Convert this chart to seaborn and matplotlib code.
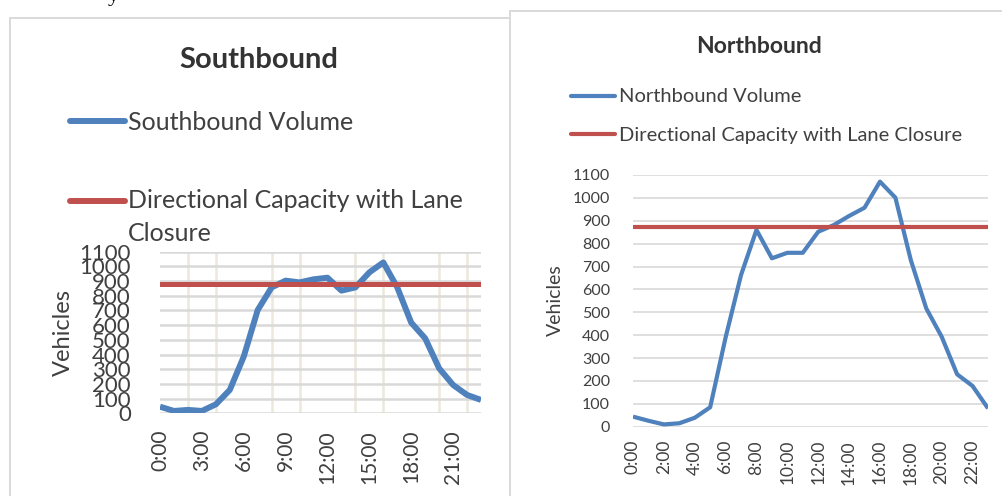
import matplotlib
matplotlib.use("Agg")
import matplotlib.pyplot as plt
from matplotlib.patches import Rectangle
from matplotlib.lines import Line2D
import pandas as pd
import seaborn as sns

# Hourly traffic volumes (vehicles per hour) by direction
hours = list(range(24))
hour_labels = [f"{h}:00" for h in hours]
southbound_volume = [45, 16, 23, 16, 61, 159, 386, 703, 857, 903, 891, 912,
                     923, 835, 857, 959, 1027, 857, 617, 510, 306, 193, 125, 91]
northbound_volume = [44, 26, 10, 15, 39, 85, 390, 663, 860, 736, 760, 760,
                     852, 881, 921, 957, 1071, 1001, 728, 517, 393, 229, 178, 80]
capacity_southbound = 878
capacity_northbound = 874
y_ticks = list(range(0, 1101, 100))

BLUE = "#4f81bd"
RED = "#c0504d"
TEXT = "#404040"

sns.set_theme(style="white")
plt.rcParams["font.family"] = ["Lato", "DejaVu Sans"]

W, H = 1002, 496
fig = plt.figure(figsize=(W / 100, H / 100), dpi=100)


def fx(px):
    return px / W


def fy(py):
    return 1 - py / H


# chart frames
fig.add_artist(Rectangle((fx(10), fy(520)), (530 - 10) / W, (520 - 18) / H,
                         transform=fig.transFigure, facecolor="white",
                         edgecolor="#d9d9d9", lw=1.4, zorder=-2))
fig.add_artist(Rectangle((fx(510), fy(520)), (1030 - 510) / W, (520 - 11) / H,
                         transform=fig.transFigure, facecolor="white",
                         edgecolor="#d9d9d9", lw=1.4, zorder=-1))

# stray text from the surrounding page
fig.text(fx(108), fy(1.5), "y", family="Liberation Serif", fontsize=16,
         va="baseline", color="black")

sb = pd.DataFrame({"hour": hours, "volume": southbound_volume})
nb = pd.DataFrame({"hour": hours, "volume": northbound_volume})


def style_axes(ax, label_step, grid_lw, ytick_size, xtick_size, ypad, xpad):
    ax.set_xlim(0, 23)
    ax.set_ylim(0, 1100)
    ax.set_yticks(y_ticks)
    ax.set_yticklabels([str(v) for v in y_ticks], fontsize=ytick_size, color=TEXT)
    ax.set_xticks(hours[::label_step])
    ax.set_xticklabels(hour_labels[::label_step], rotation=90,
                       fontsize=xtick_size, color=TEXT)
    ax.set_xticks(hours[::2], minor=True)
    ax.tick_params(axis="both", which="both", length=0)
    ax.tick_params(axis="y", pad=ypad)
    ax.tick_params(axis="x", pad=xpad)
    for s in ax.spines.values():
        s.set_visible(False)
    ax.grid(False)
    ax.grid(True, axis="y", which="major", color="#d9d9d9", lw=grid_lw, zorder=0)
    ax.grid(True, axis="x", which="minor", color="#ece8dc", lw=grid_lw, zorder=0)
    ax.set_axisbelow(True)
    ax.set_xlabel("")


# ---- Southbound ----
ax1 = fig.add_axes([fx(160), fy(413.3), (481 - 160) / W, (413.3 - 251.7) / H])
sns.lineplot(data=sb, x="hour", y="volume", ax=ax1, color=BLUE, lw=4.3,
             solid_capstyle="butt")
ax1.axhline(capacity_southbound, color=RED, lw=3.6, zorder=3)
style_axes(ax1, 3, 1.8, 16, 15, 21, 12)
ax1.set_ylabel("Vehicles", fontsize=17, color=TEXT)
ax1.yaxis.set_label_coords(fx(74), fy(332.5), transform=fig.transFigure)

fig.text(fx(258.5), fy(68), "Southbound", fontsize=21, fontweight="bold",
         color="#333333", ha="center", va="baseline")
fig.add_artist(Line2D([fx(70), fx(125)], [fy(121)] * 2, transform=fig.transFigure,
                      color=BLUE, lw=4.3, solid_capstyle="round"))
fig.text(fx(128), fy(130), "Southbound Volume", fontsize=18, color=TEXT,
         va="baseline")
fig.add_artist(Line2D([fx(70), fx(125)], [fy(201)] * 2, transform=fig.transFigure,
                      color=RED, lw=4.3, solid_capstyle="round"))
fig.text(fx(128), fy(208), "Directional Capacity with Lane", fontsize=18,
         color=TEXT, va="baseline")
fig.text(fx(128), fy(241.5), "Closure", fontsize=18, color=TEXT, va="baseline")

# ---- Northbound ----
ax2 = fig.add_axes([fx(633), fy(426.7), (988 - 633) / W, (426.7 - 175) / H])
sns.lineplot(data=nb, x="hour", y="volume", ax=ax2, color=BLUE, lw=3.0,
             solid_capstyle="butt")
ax2.axhline(capacity_northbound, color=RED, lw=3.0, zorder=3)
style_axes(ax2, 2, 1.2, 11.5, 12.5, 16.5, 9.6)
ax2.set_ylabel("Vehicles", fontsize=14, color=TEXT)
ax2.yaxis.set_label_coords(fx(564), fy(300.5), transform=fig.transFigure)

fig.text(fx(759), fy(52.7), "Northbound", fontsize=16.5, fontweight="bold",
         color="#333333", ha="center", va="baseline")
fig.add_artist(Line2D([fx(571), fx(615)], [fy(95.7)] * 2, transform=fig.transFigure,
                      color=BLUE, lw=3.0, solid_capstyle="round"))
fig.text(fx(619), fy(101.7), "Northbound Volume", fontsize=14.5, color=TEXT,
         va="baseline")
fig.add_artist(Line2D([fx(571), fx(615)], [fy(134)] * 2, transform=fig.transFigure,
                      color=RED, lw=3.0, solid_capstyle="round"))
fig.text(fx(619), fy(140.7), "Directional Capacity with Lane Closure",
         fontsize=14.5, color=TEXT, va="baseline")

fig.savefig("out.png", dpi=100)
